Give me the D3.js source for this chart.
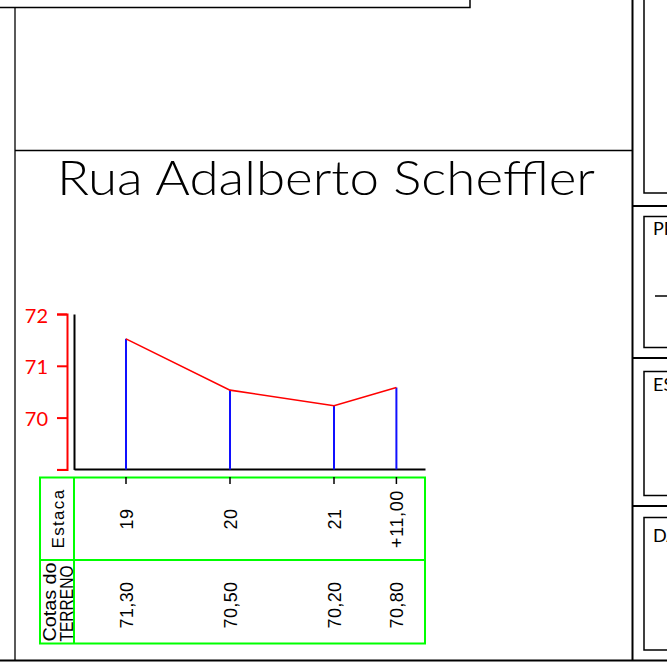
<!DOCTYPE html>
<html>
<head>
<meta charset="utf-8">
<script src="https://cdn.jsdelivr.net/npm/d3@7"></script>
<style>
  body { margin: 0; background: #fff; }
  svg { display: block; }
</style>
</head>
<body>
<div id="perfil"></div>
<script>
// Dados do perfil
const estacas = ["19", "20", "21", "+11,00"];
const distancias = [380, 400, 420, 432];          // posicao ao longo da rua (m)
const cotasPerfil = [71.52, 70.53, 70.23, 70.58]; // cotas desenhadas
const cotasTexto = ["71,30", "70,50", "70,20", "70,80"];
const yTicks = [69, 70, 71, 72];
const yLabels = ["", "70", "71", "72"];
const titulo = "Rua Adalberto Scheffler";
const carimbos = ["PROJETO", "ESCALA", "DATA"];

var width = 667, height = 662;

var svg = d3.select("#perfil")
    .append("svg")
        .attr("width", width)
        .attr("height", height);

// Moldura da prancha
var frame = svg.append("g")
    .attr("fill", "none")
    .attr("stroke", "#000");

frame.append("path").attr("stroke-width", 1.5).attr("d", "M0,7.5H470V0");
frame.append("path").attr("stroke-width", 1.3).attr("d", "M15,8V660");
frame.append("path").attr("stroke-width", 1.3).attr("d", "M15,150.5H632");
frame.append("path").attr("stroke-width", 2).attr("d", "M632.5,0V661");
frame.append("path").attr("stroke-width", 2.2).attr("d", "M0,660.5H667");
frame.append("path").attr("stroke-width", 1.5).attr("d", "M644,0V193H667");
frame.append("path").attr("stroke-width", 2).attr("d", "M632,206H667");
frame.append("path").attr("stroke-width", 2).attr("d", "M632,358H667");
frame.append("path").attr("stroke-width", 2).attr("d", "M632,506H667");

var boxes = [[216.5, 347.5], [371.5, 495.5], [517.5, 650]];
frame.selectAll(".box")
    .data(boxes)
    .enter()
    .append("path")
    .attr("class", "box")
    .attr("stroke-width", 1.5)
    .attr("d", b => `M670,${b[0]}H644V${b[1]}H670`);

frame.append("path").attr("stroke-width", 1.5).attr("d", "M655,296H667");

// textos do carimbo, cortados pela borda como no original
svg.selectAll(".carimbo")
    .data(carimbos)
    .enter()
    .append("text")
    .attr("class", "carimbo")
    .attr("x", 653)
    .attr("y", (d, i) => [235, 391, 542][i])
    .attr("font-family", "Lato, 'Liberation Sans', sans-serif")
    .attr("font-size", 18)
    .text(d => d);

// Titulo
svg.append("text")
    .attr("x", 57)
    .attr("y", 195)
    .attr("font-family", "Lato, 'Liberation Sans', sans-serif")
    .attr("font-weight", 300)
    .attr("font-size", 47)
    .attr("textLength", 538)
    .attr("lengthAdjust", "spacingAndGlyphs")
    .text(titulo);

// Escalas
var xAxis = d3.scaleLinear()
    .domain([370, 437.5])
    .range([74, 425]);

var yAxis = d3.scaleLinear()
    .domain([69, 72])
    .range([469.4, 314]);

// Eixo vermelho das cotas
var gy = svg.append("g")
    .attr("transform", "translate(67,0)")
    .call(d3.axisLeft(yAxis)
        .tickValues(yTicks)
        .tickSize(10)
        .tickPadding(9)
        .tickFormat((d, i) => yLabels[i]));
gy.select(".domain").attr("stroke", "red").attr("stroke-width", 2);
gy.selectAll(".tick line").attr("stroke", "red").attr("stroke-width", 2);
gy.selectAll(".tick text")
    .attr("fill", "red")
    .attr("font-family", "Lato, 'Liberation Sans', sans-serif")
    .attr("font-size", 20)
    .attr("dy", "0.4em");

// Eixos pretos
var gv = svg.append("g")
    .attr("transform", "translate(74,0)")
    .call(d3.axisLeft(yAxis).tickValues([]).tickSizeOuter(0));
gv.select(".domain").attr("stroke", "#000").attr("stroke-width", 2);

var gh = svg.append("g")
    .attr("transform", "translate(0,469)")
    .call(d3.axisBottom(xAxis).tickValues([]).tickSizeOuter(0));
gh.select(".domain").attr("stroke", "#000").attr("stroke-width", 2);

var pontos = estacas.map((e, i) => ({
    estaca: e,
    dist: distancias[i],
    cota: cotasPerfil[i],
    texto: cotasTexto[i]
}));

// Linhas verticais azuis
svg.selectAll(".stem")
    .data(pontos)
    .enter()
    .append("line")
    .attr("class", "stem")
    .attr("x1", d => xAxis(d.dist))
    .attr("x2", d => xAxis(d.dist))
    .attr("y1", d => yAxis(d.cota))
    .attr("y2", yAxis(69))
    .attr("stroke", "#1010ff")
    .attr("stroke-width", 2);

// Perfil do terreno
svg.append("path")
    .datum(pontos)
    .attr("fill", "none")
    .attr("stroke", "red")
    .attr("stroke-width", 1.6)
    .attr("d", d3.line()
        .x(d => xAxis(d.dist))
        .y(d => yAxis(d.cota))
    );

// Tabela
var green = "#00ff00";
var tab = svg.append("g")
    .attr("fill", "none")
    .attr("stroke", green)
    .attr("stroke-width", 2);
tab.append("rect")
    .attr("x", 40)
    .attr("y", 477.5)
    .attr("width", xAxis.range()[1] - 40)
    .attr("height", 166);
tab.append("line")
    .attr("x1", xAxis.range()[0]).attr("x2", xAxis.range()[0])
    .attr("y1", 477.5).attr("y2", 643.5);
tab.append("line")
    .attr("x1", 40).attr("x2", xAxis.range()[1])
    .attr("y1", 560).attr("y2", 560);

svg.selectAll(".marca")
    .data(pontos)
    .enter()
    .append("line")
    .attr("class", "marca")
    .attr("x1", d => xAxis(d.dist))
    .attr("x2", d => xAxis(d.dist))
    .attr("y1", 477)
    .attr("y2", 484)
    .attr("stroke", "#000")
    .attr("stroke-width", 1.5);

var fonteTab = "'Liberation Sans', Arial, sans-serif";

svg.selectAll(".estaca")
    .data(pontos)
    .enter()
    .append("text")
    .attr("class", "estaca")
    .attr("transform", d => `translate(${xAxis(d.dist) + 6.5},519) rotate(-90)`)
    .attr("text-anchor", "middle")
    .attr("font-family", fonteTab)
    .attr("font-size", 18)
    .attr("letter-spacing", 0.6)
    .text(d => d.estaca);

svg.selectAll(".cota")
    .data(pontos)
    .enter()
    .append("text")
    .attr("class", "cota")
    .attr("transform", d => `translate(${xAxis(d.dist) + 6.5},605) rotate(-90)`)
    .attr("text-anchor", "middle")
    .attr("font-family", fonteTab)
    .attr("font-size", 18)
    .attr("letter-spacing", 0.4)
    .text(d => d.texto);

svg.append("text")
    .attr("transform", "translate(64,518.5) rotate(-90)")
    .attr("text-anchor", "middle")
    .attr("font-family", fonteTab)
    .attr("font-size", 17)
    .attr("letter-spacing", 1.3)
    .text("Estaca");

svg.append("text")
    .attr("transform", "translate(55.5,641.5) rotate(-90)")
    .attr("font-family", fonteTab)
    .attr("font-size", 18)
    .attr("textLength", 79)
    .attr("lengthAdjust", "spacingAndGlyphs")
    .text("Cotas do");

svg.append("text")
    .attr("transform", "translate(72.5,641.5) rotate(-90)")
    .attr("font-family", fonteTab)
    .attr("font-size", 18)
    .attr("textLength", 76)
    .attr("lengthAdjust", "spacingAndGlyphs")
    .text("TERRENO");
</script>
</body>
</html>
